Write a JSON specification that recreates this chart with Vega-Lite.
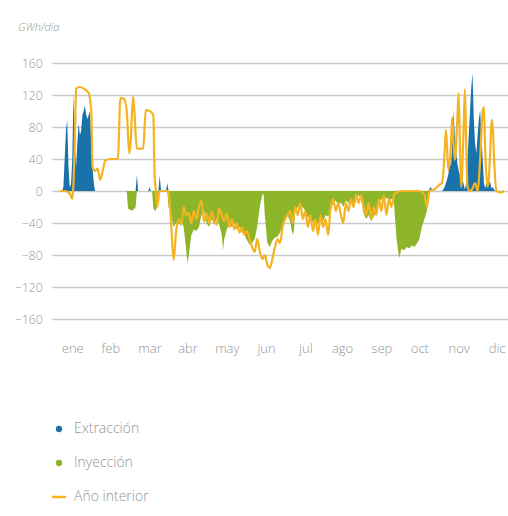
{
  "$schema": "https://vega.github.io/schema/vega-lite/v6.json",
  "autosize": {"type": "none"},
  "padding": {"left": 52, "top": 63, "right": 0, "bottom": 197},
  "width": 456,
  "height": 256,
  "background": "white",
  "title": {"text": "GWh/día", "anchor": "start", "frame": "group", "dx": -34, "offset": 24, "fontSize": 11, "fontStyle": "italic", "fontWeight": 300, "color": "#9a9a9a", "font": "Open Sans"},
  "config": {"view": {"stroke": null}, "font": "Open Sans"},
  "datasets": {
    "ext": [
      {"dia":8,"valor":0},{"dia":9,"valor":5},{"dia":10,"valor":40},{"dia":11,"valor":75},{"dia":12,"valor":89},{"dia":13,"valor":30},{"dia":14,"valor":5},{"dia":15,"valor":8},{"dia":16,"valor":40},{"dia":17,"valor":122},{"dia":18,"valor":60},{"dia":19,"valor":30},{"dia":20,"valor":60},{"dia":21,"valor":85},{"dia":22,"valor":70},{"dia":23,"valor":75},{"dia":24,"valor":95},{"dia":25,"valor":100},{"dia":26,"valor":107},{"dia":27,"valor":95},{"dia":28,"valor":90},{"dia":29,"valor":95},{"dia":30,"valor":100},{"dia":31,"valor":60},{"dia":32,"valor":30},{"dia":33,"valor":10},{"dia":34,"valor":0},
      {"dia":66,"valor":0},{"dia":67,"valor":20},{"dia":68,"valor":0},{"dia":76,"valor":0},{"dia":77,"valor":5},{"dia":78,"valor":0},{"dia":84,"valor":0},{"dia":85,"valor":19},{"dia":86,"valor":2},{"dia":87,"valor":0},{"dia":90,"valor":0},{"dia":91,"valor":10},{"dia":92,"valor":0},
      {"dia":297,"valor":0},{"dia":299,"valor":5},{"dia":301,"valor":0},
      {"dia":308,"valor":0},{"dia":310,"valor":5},{"dia":312,"valor":15},{"dia":313,"valor":22},{"dia":314,"valor":39},{"dia":315,"valor":30},{"dia":316,"valor":60},{"dia":317,"valor":99},{"dia":318,"valor":70},{"dia":319,"valor":50},{"dia":320,"valor":35},{"dia":321,"valor":26},{"dia":322,"valor":20},{"dia":324,"valor":15},{"dia":326,"valor":2},{"dia":327,"valor":10},{"dia":328,"valor":40},{"dia":330,"valor":100},{"dia":331,"valor":130},{"dia":332,"valor":147},{"dia":333,"valor":90},{"dia":334,"valor":60},{"dia":335,"valor":47},{"dia":336,"valor":70},{"dia":337,"valor":90},{"dia":338,"valor":101},{"dia":339,"valor":70},{"dia":340,"valor":40},{"dia":341,"valor":10},{"dia":342,"valor":3},{"dia":343,"valor":10},{"dia":344,"valor":18},{"dia":345,"valor":12},{"dia":346,"valor":10},{"dia":347,"valor":3},{"dia":348,"valor":5},{"dia":349,"valor":2},{"dia":350,"valor":0}
    ],
    "iny": [
      {"dia":59,"valor":0},{"dia":60,"valor":-22},{"dia":62,"valor":-24},{"dia":64,"valor":-24},{"dia":66,"valor":-20},{"dia":67,"valor":0},
      {"dia":79,"valor":0},{"dia":80,"valor":-22},{"dia":82,"valor":-25},{"dia":83,"valor":-18},{"dia":84,"valor":0},
      {"dia":91,"valor":0},{"dia":92,"valor":-20},{"dia":94,"valor":-30},{"dia":96,"valor":-45},{"dia":98,"valor":-40},{"dia":100,"valor":-42},{"dia":102,"valor":-38},{"dia":104,"valor":-45},{"dia":105,"valor":-60},{"dia":107,"valor":-90},{"dia":108,"valor":-80},{"dia":110,"valor":-55},{"dia":112,"valor":-48},{"dia":114,"valor":-50},{"dia":116,"valor":-45},{"dia":118,"valor":-30},{"dia":120,"valor":-25},{"dia":122,"valor":-40},{"dia":124,"valor":-45},{"dia":126,"valor":-35},{"dia":128,"valor":-42},{"dia":130,"valor":-35},{"dia":132,"valor":-42},{"dia":134,"valor":-55},{"dia":135,"valor":-74},{"dia":136,"valor":-60},{"dia":138,"valor":-48},{"dia":140,"valor":-42},{"dia":142,"valor":-45},{"dia":144,"valor":-40},{"dia":146,"valor":-48},{"dia":148,"valor":-45},{"dia":150,"valor":-52},{"dia":152,"valor":-55},{"dia":154,"valor":-62},{"dia":156,"valor":-67},{"dia":158,"valor":-65},{"dia":160,"valor":-60},{"dia":162,"valor":-45},{"dia":164,"valor":-20},{"dia":166,"valor":-5},{"dia":167,"valor":-3},{"dia":168,"valor":-30},{"dia":170,"valor":-65},{"dia":172,"valor":-70},{"dia":174,"valor":-62},{"dia":176,"valor":-58},{"dia":178,"valor":-57},{"dia":180,"valor":-52},{"dia":182,"valor":-42},{"dia":184,"valor":-34},{"dia":186,"valor":-30},{"dia":188,"valor":-38},{"dia":190,"valor":-55},{"dia":191,"valor":-50},{"dia":192,"valor":-25},{"dia":194,"valor":-20},{"dia":196,"valor":-22},{"dia":198,"valor":-20},{"dia":200,"valor":-25},{"dia":202,"valor":-34},{"dia":204,"valor":-30},{"dia":206,"valor":-40},{"dia":208,"valor":-35},{"dia":210,"valor":-42},{"dia":212,"valor":-33},{"dia":214,"valor":-38},{"dia":216,"valor":-30},{"dia":218,"valor":-32},{"dia":220,"valor":-25},{"dia":222,"valor":-15},{"dia":224,"valor":-12},{"dia":226,"valor":-18},{"dia":228,"valor":-14},{"dia":230,"valor":-20},{"dia":232,"valor":-12},{"dia":234,"valor":-15},{"dia":236,"valor":-10},{"dia":238,"valor":-18},{"dia":240,"valor":-12},{"dia":242,"valor":-5},{"dia":244,"valor":-10},{"dia":246,"valor":-28},{"dia":248,"valor":-35},{"dia":250,"valor":-30},{"dia":252,"valor":-38},{"dia":254,"valor":-32},{"dia":256,"valor":-25},{"dia":258,"valor":-15},{"dia":260,"valor":-10},{"dia":262,"valor":-12},{"dia":264,"valor":-8},{"dia":266,"valor":-12},{"dia":268,"valor":-10},{"dia":270,"valor":-15},{"dia":272,"valor":-60},{"dia":274,"valor":-84},{"dia":275,"valor":-78},{"dia":276,"valor":-72},{"dia":278,"valor":-74},{"dia":280,"valor":-70},{"dia":282,"valor":-72},{"dia":284,"valor":-68},{"dia":286,"valor":-70},{"dia":288,"valor":-66},{"dia":290,"valor":-60},{"dia":292,"valor":-45},{"dia":294,"valor":-35},{"dia":296,"valor":-25},{"dia":298,"valor":0}
    ],
    "ant": [
      {"dia":6,"valor":0},{"dia":10,"valor":0},{"dia":14,"valor":-3},{"dia":16,"valor":-10},{"dia":18,"valor":60},{"dia":19,"valor":128},{"dia":22,"valor":130},{"dia":26,"valor":127},{"dia":29,"valor":122},{"dia":31,"valor":100},{"dia":32,"valor":30},{"dia":34,"valor":25},{"dia":36,"valor":28},{"dia":38,"valor":14},{"dia":40,"valor":25},{"dia":42,"valor":38},{"dia":46,"valor":40},{"dia":52,"valor":40},{"dia":54,"valor":116},{"dia":57,"valor":115},{"dia":59,"valor":100},{"dia":61,"valor":47},{"dia":62,"valor":60},{"dia":64,"valor":118},{"dia":65,"valor":100},{"dia":67,"valor":53},{"dia":72,"valor":53},{"dia":74,"valor":101},{"dia":77,"valor":100},{"dia":80,"valor":95},{"dia":81,"valor":20},{"dia":82,"valor":0},{"dia":83,"valor":-20},{"dia":85,"valor":0},{"dia":92,"valor":0},{"dia":94,"valor":-40},{"dia":96,"valor":-86},{"dia":98,"valor":-50},{"dia":100,"valor":-35},{"dia":102,"valor":-42},{"dia":104,"valor":-20},{"dia":106,"valor":-30},{"dia":108,"valor":-28},{"dia":110,"valor":-40},{"dia":112,"valor":-25},{"dia":114,"valor":-35},{"dia":116,"valor":-20},{"dia":118,"valor":-12},{"dia":120,"valor":-38},{"dia":122,"valor":-28},{"dia":124,"valor":-40},{"dia":126,"valor":-26},{"dia":128,"valor":-36},{"dia":130,"valor":-42},{"dia":132,"valor":-22},{"dia":134,"valor":-30},{"dia":136,"valor":-38},{"dia":138,"valor":-28},{"dia":140,"valor":-45},{"dia":142,"valor":-35},{"dia":144,"valor":-48},{"dia":146,"valor":-40},{"dia":148,"valor":-52},{"dia":150,"valor":-45},{"dia":152,"valor":-55},{"dia":154,"valor":-50},{"dia":156,"valor":-60},{"dia":158,"valor":-70},{"dia":160,"valor":-76},{"dia":162,"valor":-60},{"dia":164,"valor":-75},{"dia":166,"valor":-85},{"dia":168,"valor":-80},{"dia":170,"valor":-92},{"dia":172,"valor":-96},{"dia":174,"valor":-85},{"dia":176,"valor":-70},{"dia":178,"valor":-60},{"dia":180,"valor":-65},{"dia":182,"valor":-45},{"dia":184,"valor":-35},{"dia":186,"valor":-30},{"dia":188,"valor":-25},{"dia":190,"valor":-40},{"dia":192,"valor":-20},{"dia":194,"valor":-30},{"dia":196,"valor":-15},{"dia":198,"valor":-35},{"dia":200,"valor":-25},{"dia":202,"valor":-45},{"dia":204,"valor":-30},{"dia":206,"valor":-50},{"dia":208,"valor":-35},{"dia":210,"valor":-55},{"dia":212,"valor":-30},{"dia":214,"valor":-45},{"dia":216,"valor":-35},{"dia":218,"valor":-55},{"dia":220,"valor":-20},{"dia":222,"valor":-10},{"dia":224,"valor":-25},{"dia":226,"valor":-15},{"dia":228,"valor":-30},{"dia":230,"valor":-40},{"dia":232,"valor":-15},{"dia":234,"valor":-25},{"dia":236,"valor":-10},{"dia":238,"valor":-20},{"dia":240,"valor":-5},{"dia":242,"valor":-15},{"dia":244,"valor":-5},{"dia":246,"valor":-20},{"dia":248,"valor":-30},{"dia":250,"valor":-15},{"dia":252,"valor":-35},{"dia":254,"valor":-20},{"dia":256,"valor":-30},{"dia":258,"valor":-10},{"dia":260,"valor":-25},{"dia":262,"valor":-5},{"dia":264,"valor":-30},{"dia":266,"valor":-10},{"dia":268,"valor":-20},{"dia":270,"valor":-5},{"dia":272,"valor":-2},{"dia":276,"valor":0},{"dia":290,"valor":0},{"dia":294,"valor":-5},{"dia":296,"valor":-20},{"dia":298,"valor":0},{"dia":302,"valor":2},{"dia":304,"valor":5},{"dia":306,"valor":8},{"dia":308,"valor":10},{"dia":310,"valor":50},{"dia":311,"valor":76},{"dia":312,"valor":50},{"dia":313,"valor":26},{"dia":315,"valor":60},{"dia":316,"valor":92},{"dia":317,"valor":60},{"dia":318,"valor":39},{"dia":320,"valor":90},{"dia":321,"valor":122},{"dia":322,"valor":60},{"dia":323,"valor":5},{"dia":325,"valor":80},{"dia":326,"valor":127},{"dia":327,"valor":60},{"dia":328,"valor":5},{"dia":330,"valor":0},{"dia":332,"valor":3},{"dia":334,"valor":10},{"dia":336,"valor":0},{"dia":338,"valor":40},{"dia":340,"valor":100},{"dia":341,"valor":105},{"dia":342,"valor":50},{"dia":344,"valor":5},{"dia":346,"valor":50},{"dia":347,"valor":89},{"dia":348,"valor":80},{"dia":349,"valor":40},{"dia":351,"valor":0},{"dia":354,"valor":-2},{"dia":357,"valor":0}
    ]
  },
  "encoding": {
    "x": {"field": "dia", "type": "quantitative", "scale": {"domain": [0, 360], "nice": false, "zero": false},
      "axis": {"title": null, "grid": false, "domain": false, "ticks": false, "labelPadding": 23, "labelFontSize": 13, "labelColor": "#959595", "labelFont": "Open Sans", "labelFontWeight": 300,
        "values": [16, 46, 77, 107, 138, 169, 200, 229, 260, 290, 321, 351],
        "labelExpr": "['ene','feb','mar','abr','may','jun','jul','ago','sep','oct','nov','dic'][floor(datum.value / 30.5)]"}},
    "y": {"field": "valor", "type": "quantitative", "scale": {"domain": [-160, 160], "nice": false},
      "axis": {"title": null, "values": [-160, -120, -80, -40, 0, 40, 80, 120, 160], "grid": true, "gridColor": "#c9c9c9", "gridWidth": 1.5, "domain": false, "ticks": false, "labelPadding": 10, "labelFontSize": 12, "labelColor": "#959595", "labelFont": "Open Sans", "labelFontWeight": 300}},
    "color": {"field": "serie", "type": "nominal",
      "scale": {"domain": ["Extracción", "Inyección", "Año interior"], "range": ["#1a72aa", "#8db52a", "#f5b322"]},
      "legend": {"orient": "none", "legendX": 0, "legendY": 359, "direction": "vertical", "title": null,
        "labelFont": "Open Sans", "labelFontSize": 14, "labelFontWeight": 300, "labelColor": "#959595", "rowPadding": 20, "labelOffset": 8, "symbolSize": 40,
        "encode": {"symbols": {"update": {
          "shape": {"signal": "datum.label === 'Año interior' ? 'stroke' : 'circle'"},
          "size": {"signal": "datum.label === 'Año interior' ? 196 : 40"},
          "fill": {"signal": "datum.label === 'Año interior' ? 'transparent' : scale('color', datum.value)"},
          "stroke": {"signal": "scale('color', datum.value)"},
          "strokeWidth": {"signal": "datum.label === 'Año interior' ? 2.5 : 0"},
          "opacity": {"value": 1}
        }}}}
    }
  },
  "layer": [
    {"data": {"name": "ext"}, "transform": [{"calculate": "'Extracción'", "as": "serie"}], "mark": {"type": "area", "opacity": 1, "clip": true}},
    {"data": {"name": "iny"}, "transform": [{"calculate": "'Inyección'", "as": "serie"}], "mark": {"type": "area", "opacity": 1, "clip": true}},
    {"data": {"name": "ant"}, "transform": [{"calculate": "'Año interior'", "as": "serie"}], "mark": {"type": "line", "strokeWidth": 2.2, "interpolate": "monotone", "clip": true}}
  ]
}
